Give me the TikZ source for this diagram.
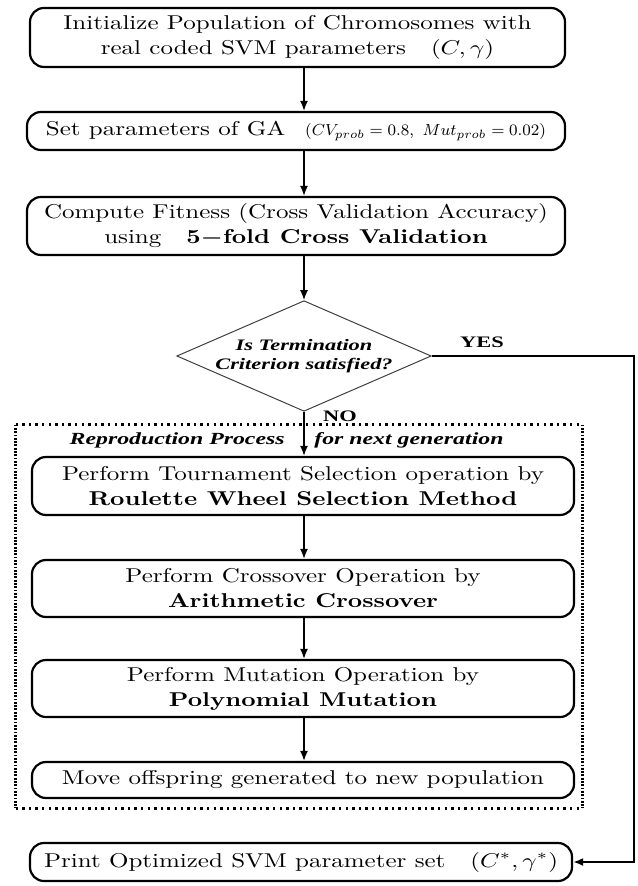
\documentclass[tikz,border=0pt]{standalone}
\usepackage{fontspec}
\usepackage{graphicx}
\usetikzlibrary{shapes.geometric,arrows.meta}
\newfontfamily\tms{Liberation Serif}
\newcommand{\sx}[1]{\scalebox{1.25}[1]{#1}}
\newcommand{\tx}[1]{\scalebox{1.4}[1]{#1}}
\begin{document}
\begin{tikzpicture}[x=0.5pt,y=-0.5pt,
  box/.style={draw=black,line width=1.1pt,rounded corners=7pt,inner sep=0pt,align=center,font=\fontsize{10}{12.5}\selectfont},
  arr/.style={line width=0.8pt,-{Latex[length=5pt,width=4pt]}},
  route/.style={line width=1pt,-{Latex[length=5pt,width=4pt]}},
  hdots/.style={line width=1.3pt,dash pattern=on 1.2pt off 2.1pt},
  vdots/.style={line width=1.4pt,dash pattern=on 0.9pt off 0.75pt},
  tbi/.style={font=\tms\bfseries\itshape\fontsize{8}{9.5}\selectfont},
  tb/.style={font=\tms\bfseries\fontsize{8}{9.5}\selectfont,inner sep=0pt}]
\useasboundingbox (0,0) rectangle (637,886);

\node[box,minimum width=267.5pt,minimum height=29.5pt] (B1) at (297.5,37.5)
  {\sx{Initialize Population of Chromosomes with}\\\sx{real coded SVM parameters\quad$(C,\gamma)$}};
\node[box,minimum width=269pt,minimum height=19pt] (B2) at (296,131)
  {\sx{Set parameters of GA}\ \ \ {\fontsize{8}{9}\selectfont$(CV_{prob}=0.8,\ Mut_{prob}=0.02)$}};
\node[box,minimum width=269pt,minimum height=29pt] (B3) at (296,226)
  {\sx{Compute Fitness (Cross Validation Accuracy)}\\\sx{using\ \ \ \textbf{5{\boldmath$-$}fold Cross Validation}}};

\node[diamond,shape aspect=2.3,draw=black!75,line width=0.5pt,minimum width=126pt,minimum height=55pt,inner sep=0pt,align=center,tbi] (D) at (304,356)
  {\tx{Is Termination}\\\tx{Criterion satisfied?}};
\node[tb] (yes) at (482,342) {\tx{YES}};
\node[tb] (no) at (340,416) {\tx{NO}};

\node[minimum width=283pt,minimum height=191.5pt,inner sep=0pt] (R) at (299,616.5) {};
\draw[hdots] (R.north west) -- (R.north east);
\draw[hdots] (R.south west) -- (R.south east);
\draw[vdots] (R.north west) -- (R.south west);
\draw[vdots] (R.north east) -- (R.south east);
\node[tbi,font=\tms\bfseries\itshape\fontsize{8.5}{10}\selectfont,anchor=east,inner sep=0pt] (T1) at (285,440) {\tx{Reproduction Process}};
\node[tbi,font=\tms\bfseries\itshape\fontsize{8.5}{10}\selectfont,anchor=west,inner sep=0pt] (T2) at (314,440) {\tx{for next generation}};

\node[box,minimum width=271pt,minimum height=29pt] (B4) at (303,486)
  {\sx{Perform Tournament Selection operation by}\\\sx{\textbf{Roulette Wheel Selection Method}}};
\node[box,minimum width=271pt,minimum height=28.5pt] (B5) at (303,588.5)
  {\sx{Perform Crossover Operation by}\\\sx{\textbf{Arithmetic Crossover}}};
\node[box,minimum width=271pt,minimum height=28.5pt] (B6) at (303,688.5)
  {\sx{Perform Mutation Operation by}\\\sx{\textbf{Polynomial Mutation}}};
\node[box,minimum width=271pt,minimum height=18pt] (B7) at (303,780)
  {\sx{Move offspring generated to new population}};

\node[box,minimum width=271pt,minimum height=19pt] (Pr) at (301,862)
  {\sx{Print Optimized SVM parameter set\quad$(C^{*},\gamma^{*})$}};

\coordinate (rc) at (634,356);

\draw[arr] (B1.south -| D) -- (B2.north -| D);
\draw[arr] (B2.south -| D) -- (B3.north -| D);
\draw[arr] (B3.south -| D) -- (D.north);
\draw[arr] (D.south) -- (B4.north -| D);
\draw[arr] (B4.south -| D) -- (B5.north -| D);
\draw[arr] (B5.south -| D) -- (B6.north -| D);
\draw[arr] (B6.south -| D) -- (B7.north -| D);
\draw[route] (D.east) -| (rc |- Pr.east) -- (Pr.east);
\end{tikzpicture}
\end{document}
